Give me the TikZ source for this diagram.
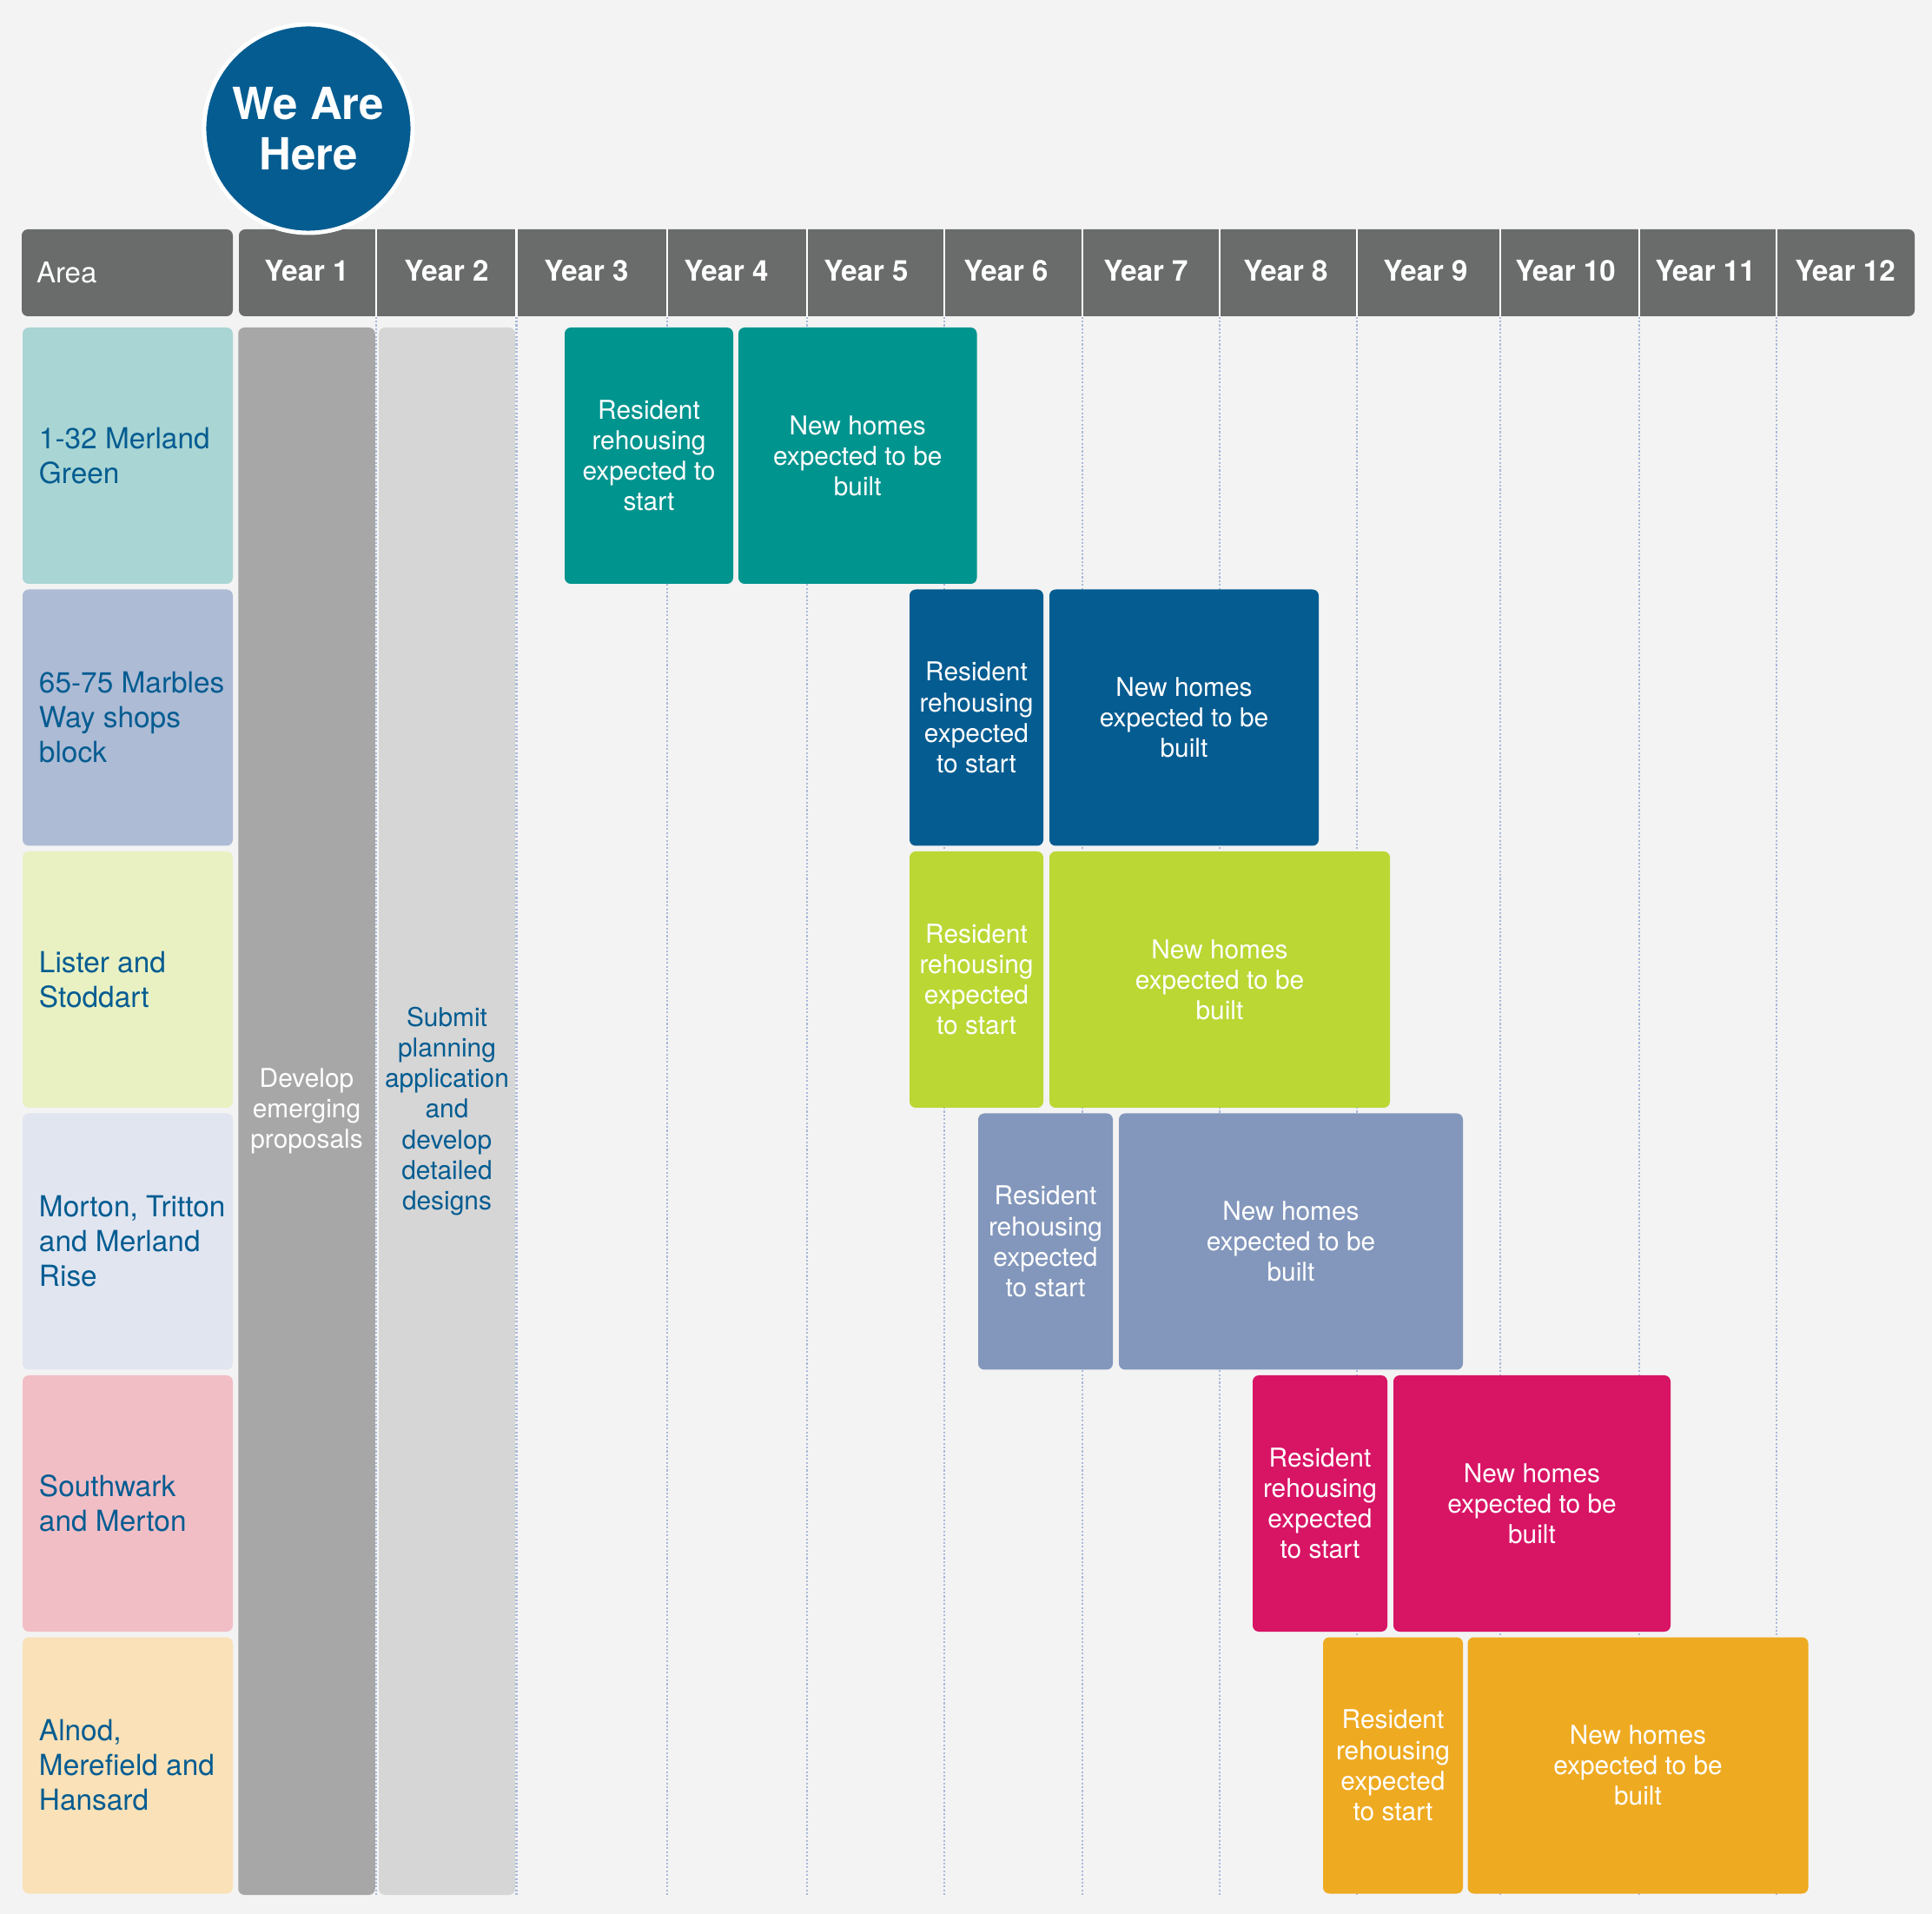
\documentclass[tikz,border=0pt]{standalone}
\usepackage{fontspec}
\setmainfont{TeX Gyre Heros}
\usepackage{xcolor}
\usepackage{tikz}
\usetikzlibrary{positioning,backgrounds,shapes}

\definecolor{pagebg}{HTML}{F3F3F3}
\definecolor{headgray}{HTML}{696C6B}
\definecolor{stagedark}{HTML}{A7A7A7}
\definecolor{stagelight}{HTML}{D6D6D6}
\definecolor{planblue}{HTML}{045C91}
\definecolor{gridblue}{HTML}{A9B9DA}
\definecolor{tealbox}{HTML}{00948F}
\definecolor{limebox}{HTML}{BAD734}
\definecolor{slatebox}{HTML}{8397BC}
\definecolor{pinkbox}{HTML}{D81465}
\definecolor{amberbox}{HTML}{EEAA21}
\definecolor{merlandbg}{HTML}{A9D5D4}
\definecolor{marblesbg}{HTML}{ADBBD5}
\definecolor{listerbg}{HTML}{E9F1C3}
\definecolor{mortonbg}{HTML}{E1E5F0}
\definecolor{southwarkbg}{HTML}{F2BEC6}
\definecolor{alnodbg}{HTML}{FAE1B7}

\begin{document}
\begin{tikzpicture}[
    cell/.style = {
        rectangle,
        rounded corners=2pt,
        inner sep=0pt,
        align=center,
        text=white,
        font=\fontsize{8.5}{10}\selectfont
    },
    head/.style      = {cell, fill=headgray, minimum height=1cm},
    headlabel/.style = {inner sep=0pt, text=white, font=\fontsize{9.4}{11}\selectfont},
    yearlabel/.style = {headlabel, font=\fontsize{9.4}{11}\selectfont\bfseries},
    areacell/.style  = {cell, minimum width=2.42cm, minimum height=2.95cm},
    arealabel/.style = {inner sep=0pt, align=left, text=planblue, font=\fontsize{9.5}{11.4}\selectfont},
    stage/.style     = {cell, minimum width=1.57cm, minimum height=18.04cm},
    phase/.style     = {cell, minimum height=2.95cm},
    gridline/.style  = {draw=gridblue, line width=0.6pt, dash pattern=on 0.6pt off 0.65pt},
    divider/.style   = {draw=white, line width=0.7pt},
    marker/.style    = {circle, fill=planblue, draw=white, line width=1.4pt, minimum size=2.4cm,
                        inner sep=0pt, align=center, text=white, font=\fontsize{14.5}{16.5}\selectfont\bfseries}
]

\def\rowtop{-5.245}
\def\rowgap{3.015}

\fill[pagebg] (0,0) rectangle (22.24,-22.03);

% header row
\node[head, minimum width=2.43cm] (areahead) at (1.465,-3.14) {};
\node[headlabel, right=0.17cm of areahead.west] (arealbl) {Area};
\node[head, minimum width=19.29cm] (years) at (12.395,-3.14) {};
\coordinate (gridend) at (0,-21.81);

\foreach \x in {4.33,5.945,7.68,9.29,10.87,12.46,14.04,15.62,17.27,18.87,20.45} {
    \draw[divider] (\x,0 |- years.north) -- (\x,0 |- years.south);
    \draw[gridline] (\x,0 |- years.south) -- (\x,0 |- gridend);
}
\foreach \n in {1,...,12}
    \node[yearlabel] (year\n) at ({3.53+1.61*(\n-1)},-3.12) {Year \n};

% years 1 and 2
\node[stage, fill=stagedark, minimum width=1.575cm] (develop) at (3.53,-12.79) {Develop\\emerging\\proposals};
\node[stage, fill=stagelight, text=planblue] (submit) at (5.145,-12.79) {Submit\\planning\\application\\and\\develop\\detailed\\designs};

% areas
\node[areacell, fill=merlandbg]   (merland)   at (1.47,\rowtop) {};
\node[areacell, fill=marblesbg]   (marbles)   at (1.47,\rowtop-\rowgap) {};
\node[areacell, fill=listerbg]    (lister)    at (1.47,\rowtop-2*\rowgap) {};
\node[areacell, fill=mortonbg]    (morton)    at (1.47,\rowtop-3*\rowgap) {};
\node[areacell, fill=southwarkbg] (southwark) at (1.47,\rowtop-4*\rowgap) {};
\node[areacell, fill=alnodbg]     (alnod)     at (1.47,\rowtop-5*\rowgap) {};

\node[arealabel, right=0.19cm of merland.west]   {1-32 Merland\\Green};
\node[arealabel, right=0.19cm of marbles.west]   {65-75 Marbles\\Way shops\\block};
\node[arealabel, right=0.19cm of lister.west]    {Lister and\\Stoddart};
\node[arealabel, right=0.19cm of morton.west]    {Morton, Tritton\\and Merland\\Rise};
\node[arealabel, right=0.19cm of southwark.west] {Southwark\\and Merton};
\node[arealabel, right=0.19cm of alnod.west]     {Alnod,\\Merefield and\\Hansard};

% rehousing and new homes
\node[phase, fill=tealbox, minimum width=1.94cm]  (merlandR) at (7.47,\rowtop) {Resident\\rehousing\\expected to\\start};
\node[phase, fill=tealbox, minimum width=2.745cm] (merlandN) at (9.8725,\rowtop) {New homes\\expected to be\\built};

\node[phase, fill=planblue, minimum width=1.54cm] (marblesR) at (11.24,\rowtop-\rowgap) {Resident\\rehousing\\expected\\to start};
\node[phase, fill=planblue, minimum width=3.1cm]  (marblesN) at (13.63,\rowtop-\rowgap) {New homes\\expected to be\\built};

\node[phase, fill=limebox, minimum width=1.54cm] (listerR) at (11.24,\rowtop-2*\rowgap) {Resident\\rehousing\\expected\\to start};
\node[phase, fill=limebox, minimum width=3.92cm] (listerN) at (14.04,\rowtop-2*\rowgap) {New homes\\expected to be\\built};

\node[phase, fill=slatebox, minimum width=1.55cm] (mortonR) at (12.035,\rowtop-3*\rowgap) {Resident\\rehousing\\expected\\to start};
\node[phase, fill=slatebox, minimum width=3.96cm] (mortonN) at (14.86,\rowtop-3*\rowgap) {New homes\\expected to be\\built};

\node[phase, fill=pinkbox, minimum width=1.55cm] (southwarkR) at (15.195,\rowtop-4*\rowgap) {Resident\\rehousing\\expected\\to start};
\node[phase, fill=pinkbox, minimum width=3.19cm] (southwarkN) at (17.635,\rowtop-4*\rowgap) {New homes\\expected to be\\built};

\node[phase, fill=amberbox, minimum width=1.61cm] (alnodR) at (16.035,\rowtop-5*\rowgap) {Resident\\rehousing\\expected\\to start};
\node[phase, fill=amberbox, minimum width=3.92cm] (alnodN) at (18.855,\rowtop-5*\rowgap) {New homes\\expected to be\\built};

% we are here
\node[marker] (here) at (3.55,-1.48) {We Are\\Here};

\end{tikzpicture}
\end{document}
